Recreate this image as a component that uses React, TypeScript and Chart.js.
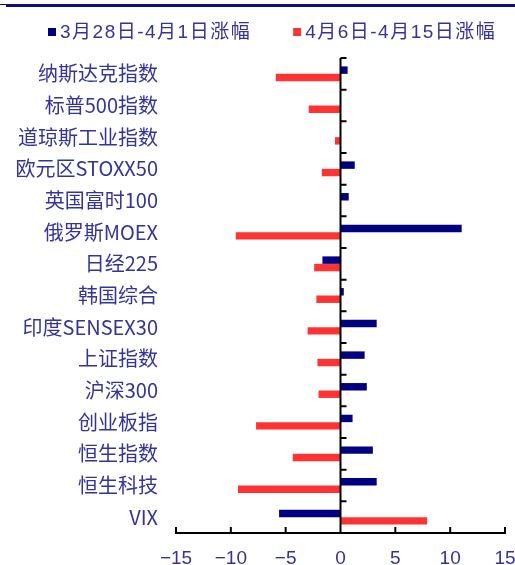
import React, { useEffect, useRef } from 'react';
import { Chart, registerables } from 'chart.js';

Chart.register(...registerables);

const categories = [
  '纳斯达克指数',
  '标普500指数',
  '道琼斯工业指数',
  '欧元区STOXX50',
  '英国富时100',
  '俄罗斯MOEX',
  '日经225',
  '韩国综合',
  '印度SENSEX30',
  '上证指数',
  '沪深300',
  '创业板指',
  '恒生指数',
  '恒生科技',
  'VIX',
];
const seriesNames = ['3月28日-4月1日涨幅', '4月6日-4月15日涨幅'];
const seriesColors = ['#000080', '#ff3333'];
const changeWeek1 = [0.65, 0, 0, 1.3, 0.75, 11.05, -1.65, 0.3, 3.3, 2.2, 2.4, 1.1, 2.95, 3.3, -5.6];
const changeWeek2 = [-5.9, -2.9, -0.5, -1.7, 0, -9.55, -2.4, -2.2, -3.0, -2.1, -2.0, -7.7, -4.35, -9.35, 7.9];
const xTickValues = [-15, -10, -5, 0, 5, 10, 15];

const LABEL_FONT = "'Noto Sans CJK SC', sans-serif";
const FONT = "'Liberation Sans', 'Noto Sans CJK SC', sans-serif";
const TEXT_COLOR = '#333399';

const legendAndAxesPlugin = {
  id: 'customAxes',
  beforeDraw(chart: any) {
    const { ctx, width } = chart;
    ctx.save();
    ctx.fillStyle = '#140c7c';
    ctx.fillRect(6, 4, width - 6, 3);
    ctx.fillRect(0, 4, 6, 1);
    ctx.restore();
  },
  afterDraw(chart: any) {
    const { ctx } = chart;
    ctx.save();
    ctx.font = `19px ${FONT}`;
    (ctx as any).letterSpacing = '1.5px';
    ctx.textBaseline = 'middle';
    ctx.textAlign = 'left';
    let lx = 48;
    const ly = 32;
    seriesNames.forEach((name, i) => {
      ctx.fillStyle = seriesColors[i];
      ctx.fillRect(lx, ly - 4, 8, 8);
      ctx.fillStyle = TEXT_COLOR;
      ctx.fillText(name, lx + 12, ly + 1);
      lx += 12 + ctx.measureText(name).width + 42;
    });
    ctx.restore();
  },
  afterDatasetsDraw(chart: any) {
    const { ctx, chartArea } = chart;
    const x = chart.scales.x;
    const y = chart.scales.y;
    const x0 = x.getPixelForValue(0);
    ctx.save();
    ctx.strokeStyle = '#000';
    ctx.lineWidth = 2;
    ctx.beginPath();
    ctx.moveTo(x0, chartArea.top);
    ctx.lineTo(x0, chartArea.bottom);
    for (let i = 0; i <= categories.length; i++) {
      const yy = y.getPixelForValue(i - 0.5);
      ctx.moveTo(x0, yy);
      ctx.lineTo(x0 + 6, yy);
    }
    for (const v of xTickValues) {
      const xx = x.getPixelForValue(v);
      ctx.moveTo(xx, chartArea.bottom);
      ctx.lineTo(xx, chartArea.bottom - 6);
    }
    ctx.stroke();
    ctx.restore();
  },
};

export default function App() {
  const canvasRef = useRef<HTMLCanvasElement>(null);

  useEffect(() => {
    if (!canvasRef.current) return;
    const chart = new Chart(canvasRef.current, {
      type: 'bar',
      data: {
        labels: categories,
        datasets: [
          {
            label: seriesNames[0],
            data: changeWeek1,
            backgroundColor: seriesColors[0],
            borderWidth: 0,
            categoryPercentage: 0.47,
            barPercentage: 1,
          },
          {
            label: seriesNames[1],
            data: changeWeek2,
            backgroundColor: seriesColors[1],
            borderWidth: 0,
            categoryPercentage: 0.47,
            barPercentage: 1,
          },
        ],
      },
      options: {
        indexAxis: 'y',
        responsive: true,
        maintainAspectRatio: false,
        animation: false,
        layout: { padding: { top: 58, right: 10, bottom: 0, left: 0 } },
        plugins: {
          tooltip: { enabled: false },
          legend: { display: false },
        },
        scales: {
          x: {
            type: 'linear',
            min: -15,
            max: 15,
            ticks: {
              stepSize: 5,
              color: TEXT_COLOR,
              padding: 14,
              font: { family: FONT, size: 19 },
              callback: (v: any) => String(v).replace('-', '−'),
            },
            grid: { display: false, drawTicks: false },
            border: { display: true, color: '#000', width: 2 },
            afterFit: (scale: any) => {
              scale.height = 32;
              scale.paddingRight = 0;
              scale.paddingLeft = 0;
            },
          },
          y: {
            type: 'category',
            ticks: {
              color: TEXT_COLOR,
              padding: 18,
              font: { family: LABEL_FONT, size: 20 },
            },
            grid: { display: false, drawTicks: false },
            border: { display: false },
            afterFit: (scale: any) => {
              scale.width = 176;
            },
          },
        },
      },
      plugins: [legendAndAxesPlugin],
    });
    return () => chart.destroy();
  }, []);

  return (
    <div style={{ position: 'fixed', left: 0, top: 0, width: 515, height: 565, background: '#fff' }}>
      <canvas ref={canvasRef} />
    </div>
  );
}
